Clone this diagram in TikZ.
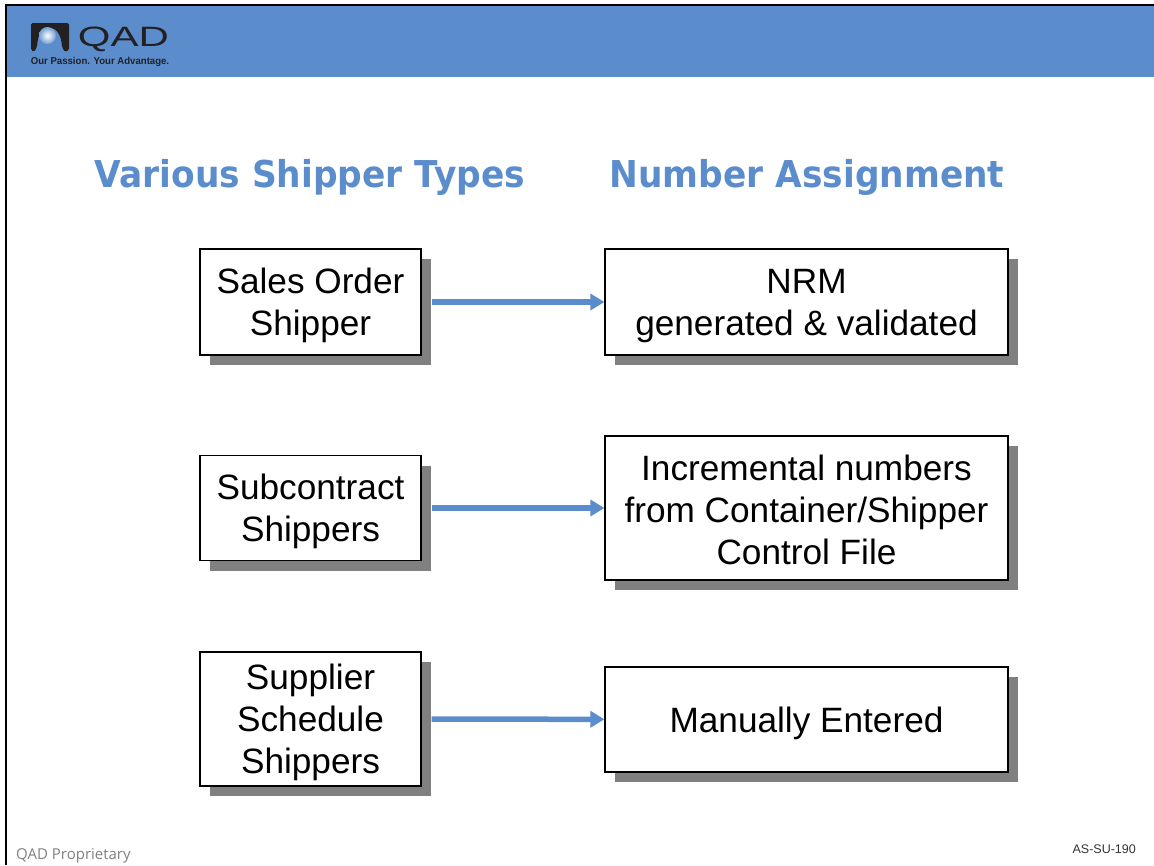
\documentclass[tikz,border=0pt]{standalone}
\usepackage{fontspec}
\setmainfont{Liberation Sans}
\newfontfamily\titlefont[FakeStretch=0.93]{DejaVu Sans}
\newfontfamily\notefont{Open Sans}
\newfontfamily\logofont[FakeStretch=1.5]{Liberation Sans}
\newfontfamily\sloganfont[FakeStretch=0.96]{Liberation Sans}
\usetikzlibrary{arrows.meta,shadows}
\definecolor{qadblue}{RGB}{91,141,205}
\definecolor{qaddark}{RGB}{35,32,35}
\newcommand{\boxstrut}{\rule[-5pt]{0pt}{38pt}}
\tikzset{
    typebox/.style={draw=black,line width=1.2pt,fill=white,align=center,inner sep=0pt,
        font=\fontsize{35.2}{42}\selectfont,
        drop shadow={shadow xshift=10pt,shadow yshift=-10pt,fill=gray!100,opacity=1}},
    flow/.style={draw=qadblue,line width=5.5pt,-{Triangle[length=14pt,width=16pt]},shorten <=10pt},
    heading/.style={text=qadblue,font=\titlefont\bfseries\fontsize{37}{44}\selectfont,inner sep=0pt}
}
\begin{document}
\begin{tikzpicture}[x=1pt,y=-1pt]
\useasboundingbox (0,0) rectangle (1154,865);
    % header and frame
    \fill[qadblue] (6,5) rectangle (1154,77);
    \draw[black,line width=2pt] (6,865) -- (6,5) -- (1154,5);
    % logo
    \fill[qaddark,rounded corners=1.5pt] (31,23) -- (69,23) -- (69,50) -- (65,52) -- (62,47)
        .. controls (61,33) and (55,28) .. (49,28) .. controls (43,28) and (38,33) .. (37,47)
        -- (34,52) -- (31,50) -- cycle;
    \shade[inner color=white,outer color=qadblue!85!white] (47.5,35.5) circle (8.5);
    \node (logotext) at (123.5,39) [inner sep=0pt,text=qaddark,font=\logofont\fontsize{28}{28}\selectfont] {QAD};
    \node (slogan) at (100,62) [inner sep=0pt,text=qaddark,font=\sloganfont\bfseries\fontsize{10}{10}\selectfont] {Our Passion. Your Advantage.};
    % headings
    \node[heading] (typeshead) at (310,177) {Various Shipper Types};
    \node[heading] (numbershead) at (807,177) {Number Assignment};
    % left column
    \node[typebox,minimum width=221pt,minimum height=106pt] (sales) at (310.5,302) {\boxstrut Sales Order\\Shipper\boxstrut};
    \node[typebox,minimum width=221pt,minimum height=105pt] (subcontract) at (310.5,508) {\boxstrut Subcontract\\Shippers\boxstrut};
    \node[typebox,minimum width=221pt,minimum height=134pt] (supplier) at (310.5,719) {\boxstrut Supplier\\Schedule\\Shippers\boxstrut};
    % right column
    \node[typebox,minimum width=403pt,minimum height=106pt] (nrm) at (806.5,302) {\boxstrut NRM\\generated \& validated\boxstrut};
    \node[typebox,minimum width=403pt,minimum height=144pt] (incremental) at (806.5,508) {\boxstrut Incremental numbers\\from Container/Shipper\\Control File\boxstrut};
    \node[typebox,minimum width=403pt,minimum height=105pt] (manual) at (806.5,719.5) {\boxstrut Manually Entered\boxstrut};
    % arrows
    \draw[flow] (sales) -- (nrm);
    \draw[flow] (subcontract) -- (incremental);
    \draw[flow] (supplier) -- (manual);
    % footer
    \node[anchor=west,inner sep=0pt,text=gray,font=\notefont\fontsize{15}{18}\selectfont] (proprietary) at (16,856) {QAD Proprietary};
    \node[anchor=east,inner sep=0pt,text=black!80,font=\fontsize{12.5}{15}\selectfont] (slidecode) at (1136,849) {AS-SU-190};
\end{tikzpicture}
\end{document}
